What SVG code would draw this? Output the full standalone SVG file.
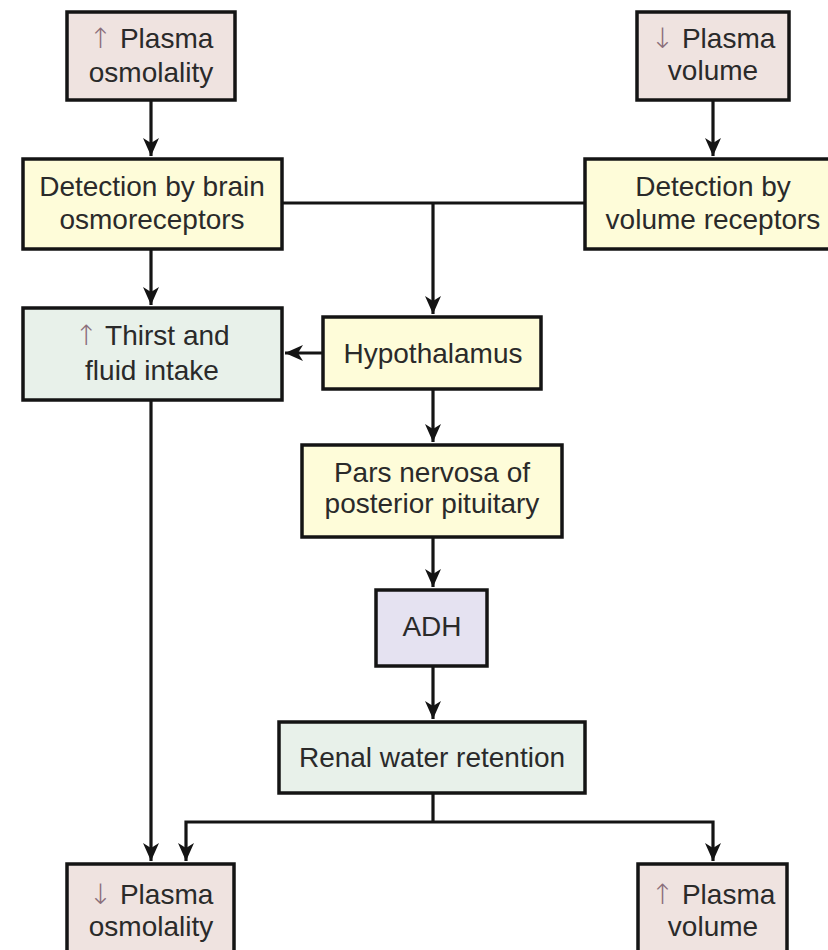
<svg xmlns="http://www.w3.org/2000/svg" width="828" height="950" viewBox="0 0 828 950">
<defs>
<style>
.box{stroke:#141414;stroke-width:3.5}
.pink{fill:#efe3e0}
.yellow{fill:#fefcd9}
.green{fill:#e8f1ea}
.lav{fill:#e5e2f1}
text{font-family:"Liberation Sans",Arial,sans-serif;font-size:28px;fill:#2a2a2a;text-anchor:middle}
.arr{fill:#8a6e7a;font-family:"DejaVu Sans","Liberation Sans",sans-serif;font-weight:300}
.ln{stroke:#141414;stroke-width:3.2;fill:none}
</style>
<marker id="ah" markerUnits="userSpaceOnUse" markerWidth="22" markerHeight="20" viewBox="-20 -10 22 20" refX="0" refY="0" orient="auto-start-reverse">
<path d="M0,0 L-18,-8 L-13,0 L-18,8 Z" fill="#141414"/>
</marker>
</defs>
<rect width="828" height="950" fill="#ffffff"/>

<g id="connectors">
<line class="ln" x1="151" y1="100" x2="151" y2="156" marker-end="url(#ah)"/>
<line class="ln" x1="713" y1="100" x2="713" y2="156" marker-end="url(#ah)"/>
<polyline class="ln" points="282,203 585,203"/>
<line class="ln" x1="433" y1="203" x2="433" y2="314" marker-end="url(#ah)"/>
<line class="ln" x1="151" y1="249" x2="151" y2="305" marker-end="url(#ah)"/>
<line class="ln" x1="323" y1="353" x2="285" y2="353" marker-end="url(#ah)"/>
<line class="ln" x1="433" y1="389" x2="433" y2="442" marker-end="url(#ah)"/>
<line class="ln" x1="433" y1="537" x2="433" y2="587" marker-end="url(#ah)"/>
<line class="ln" x1="433" y1="666" x2="433" y2="719" marker-end="url(#ah)"/>
<line class="ln" x1="151" y1="400" x2="151" y2="861" marker-end="url(#ah)"/>
<polyline class="ln" points="433,793 433,822"/>
<polyline class="ln" points="186,861 186,822 713,822 713,861" marker-start="url(#ah)" marker-end="url(#ah)"/>
</g>

<g id="plasma-osmolality-up">
<rect class="box pink" x="67" y="12" width="168" height="88"/>
<text x="151" y="48"><tspan class="arr">↑</tspan> Plasma</text>
<text x="151" y="82">osmolality</text>
</g>

<g id="plasma-volume-down">
<rect class="box pink" x="637" y="12" width="152" height="88"/>
<text x="713" y="48"><tspan class="arr">↓</tspan> Plasma</text>
<text x="713" y="80">volume</text>
</g>

<g id="osmoreceptors">
<rect class="box yellow" x="23" y="159" width="259" height="90"/>
<text x="152" y="196">Detection by brain</text>
<text x="152" y="229">osmoreceptors</text>
</g>

<g id="volume-receptors">
<rect class="box yellow" x="585" y="159" width="260" height="90"/>
<text x="713" y="196">Detection by</text>
<text x="713" y="229">volume receptors</text>
</g>

<g id="thirst">
<rect class="box green" x="23" y="308" width="259" height="92"/>
<text x="152" y="345"><tspan class="arr">↑</tspan> Thirst and</text>
<text x="152" y="380">fluid intake</text>
</g>

<g id="hypothalamus">
<rect class="box yellow" x="323" y="317" width="218" height="72"/>
<text x="433" y="363">Hypothalamus</text>
</g>

<g id="pars-nervosa">
<rect class="box yellow" x="302" y="445" width="260" height="92"/>
<text x="432" y="482">Pars nervosa of</text>
<text x="432" y="513">posterior pituitary</text>
</g>

<g id="adh">
<rect class="box lav" x="376" y="590" width="111" height="76"/>
<text x="432" y="636">ADH</text>
</g>

<g id="renal">
<rect class="box green" x="279" y="722" width="306" height="71"/>
<text x="432" y="767">Renal water retention</text>
</g>

<g id="plasma-osmolality-down">
<rect class="box pink" x="67" y="864" width="167" height="100"/>
<text x="151" y="904"><tspan class="arr">↓</tspan> Plasma</text>
<text x="151" y="936">osmolality</text>
</g>

<g id="plasma-volume-up">
<rect class="box pink" x="638" y="864" width="149" height="100"/>
<text x="713" y="904"><tspan class="arr">↑</tspan> Plasma</text>
<text x="713" y="936">volume</text>
</g>
</svg>
